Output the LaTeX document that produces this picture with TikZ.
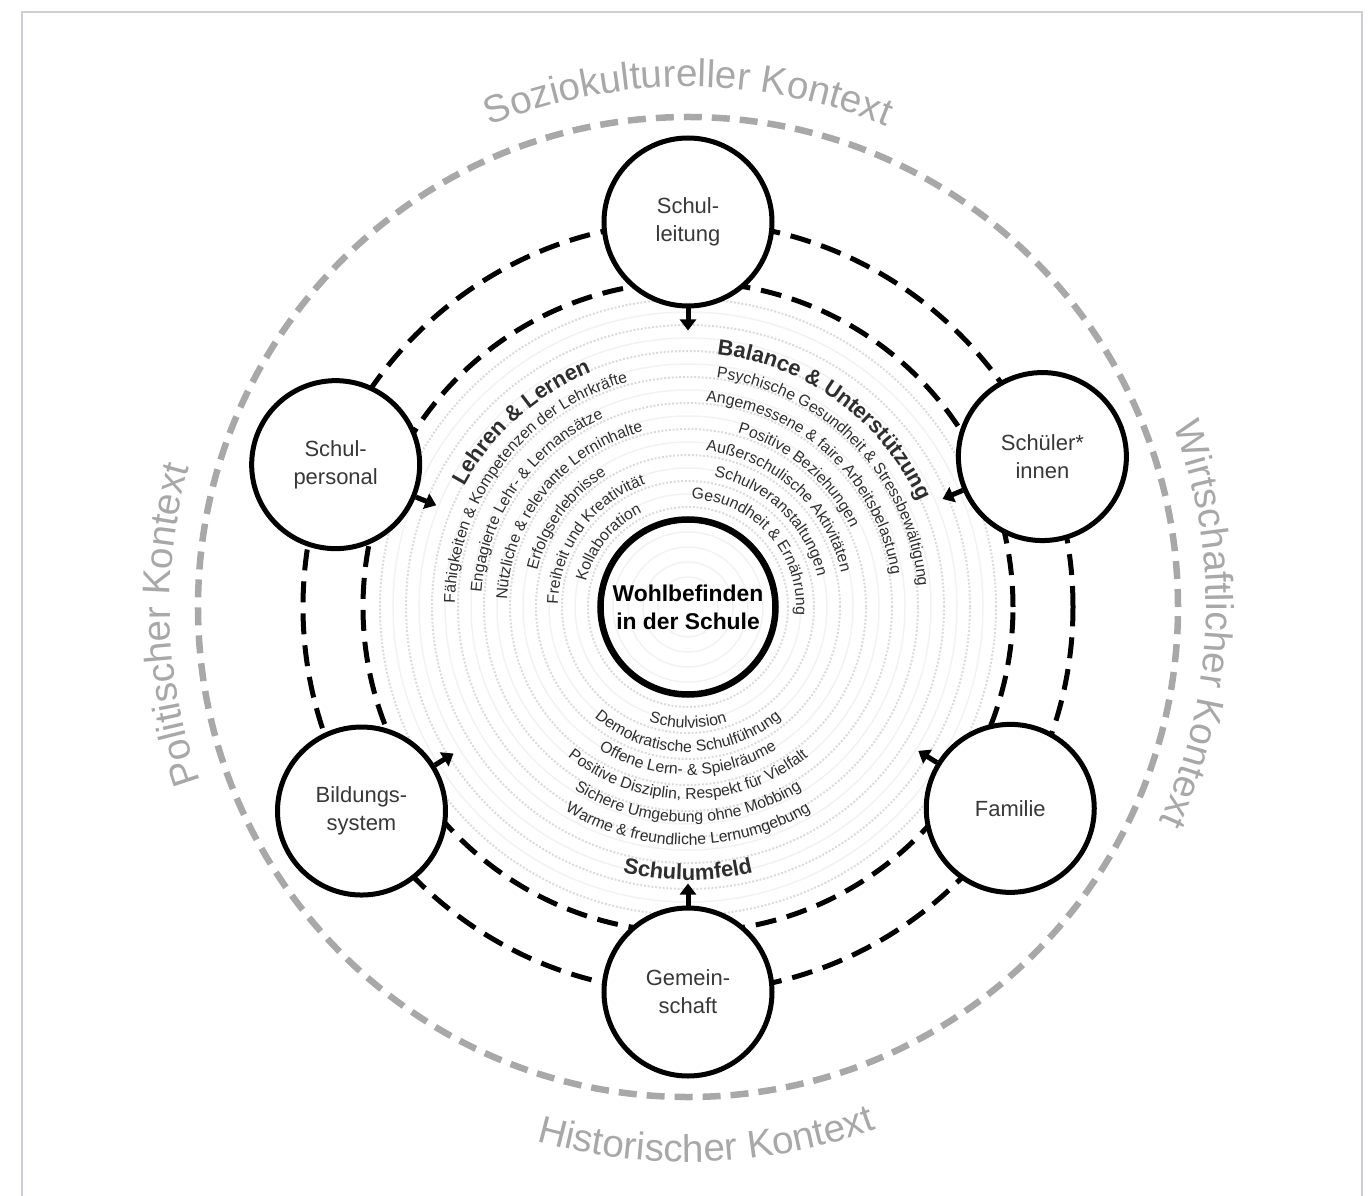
\documentclass[tikz,border=0pt]{standalone}
\usepackage{fontspec}
\setmainfont{Liberation Sans}
\usetikzlibrary{arrows.meta, calc, decorations.text}
\definecolor{framecol}{RGB}{204,206,224}
\definecolor{ctxgray}{RGB}{168,168,168}
\newcommand\arcfont{\fontsize{9}{11}\selectfont}
\newcommand\headfont{\bfseries\fontsize{12.5}{15}\selectfont}
\newcommand\ctxfont{\fontsize{22}{26}\selectfont}

\begin{document}
\begin{tikzpicture}[
  actor/.style={circle, draw, line width=0.1cm, fill=white, minimum size=3.36cm,
                inner sep=0pt, align=center, text=black!78,
                font=\fontsize{12.5}{16}\selectfont},
  hub/.style={circle, draw, line width=0.13cm, minimum size=3.5cm, inner sep=0pt,
              align=center, font=\bfseries\fontsize{13}{16}\selectfont},
  link/.style={line width=0.1cm, dash pattern=on 0.42cm off 0.22cm},
  ctxring/.style={ctxgray, line width=0.13cm, dash pattern=on 0.36cm off 0.2cm},
  ring/.style={gray!28, line width=0.04cm, densely dotted},
  faintring/.style={gray!10, line width=0.03cm},
  inarrow/.style={line width=0.1cm, -{Triangle[length=0.22cm, width=0.32cm]}},
  arctext/.style={decorate, decoration={text along path, text align=center,
                  text color=black!82}},
  ctxtext/.style={decorate, decoration={text along path, text align=center,
                  text color=ctxgray}}]

  \useasboundingbox (-13.76,-11.76) rectangle (13.64,12.14);
  \draw[framecol, line width=0.04cm] (-13.32,-12) |- (13.48,11.9) -- (13.48,-12);

  \coordinate (c) at (0,0);
  % background rings
  \foreach \r in {0.6,0.9,...,1.7} \draw[faintring] (c) circle[radius=\r];
  \foreach \r in {2.0,2.52,...,6.2} \draw[ring] (c) circle[radius=\r];
  \foreach \r in {2.26,2.78,...,6.0} \draw[faintring] (c) circle[radius=\r];

  % context ring and labels
  \draw[ctxring] (c) circle[radius=9.8];
  \path[ctxtext, decoration={text={|\ctxfont|Soziokultureller Kontext}}]
    (c) ++(170:10.4) arc[start angle=170, end angle=10, radius=10.4];
  \path[ctxtext, decoration={text={|\ctxfont|Politischer Kontext}}]
    (c) ++(262:10.36) arc[start angle=262, end angle=102, radius=10.36];
  \path[ctxtext, decoration={text={|\ctxfont|Wirtschaftlicher Kontext}}]
    (c) ++(78:10.36) arc[start angle=78, end angle=-82, radius=10.36];
  \path[ctxtext, decoration={text={|\ctxfont|Historischer Kontext}}]
    (c) ++(-168:11.1) arc[start angle=-168, end angle=-8, radius=11.1];

  % links between the actors
  \draw[link] (c) circle[radius=7.7];
  \draw[link] (c) circle[radius=6.5];

  \node[hub]   (wb) at (c)        {Wohlbefinden\\in der Schule};
  \node[actor] (sl) at (90:7.7)   {Schul-\\leitung};
  \node[actor] (si) at (23:7.7)   {Schüler*\\innen};
  \node[actor] (fa) at (-32:7.6)  {Familie};
  \node[actor] (gs) at (-90:7.7)  {Gemein-\\schaft};
  \node[actor] (bs) at (212:7.7)  {Bildungs-\\system};
  \node[actor] (sp) at (158:7.6)  {Schul-\\personal};

  \foreach \n/\a in {sl/-90, si/203, fa/148, gs/90, bs/32, sp/-22}
    \draw[inarrow] (\n.\a) -- ($(\n.\a)!0.44cm!(wb)$);

  % headings
  \path[arctext, decoration={text={|\headfont|Lehren {\&} Lernen}}]
    (wb.center) ++(212:5.08) arc[start angle=212, end angle=52, radius=5.08];
  \path[arctext, decoration={text={|\headfont|Balance {\&} Unterstützung}}]
    (wb.center) ++(134:5.08) arc[start angle=134, end angle=-26, radius=5.08];
  \path[arctext, decoration={text={|\headfont|Schulumfeld}}]
    (wb.center) ++(-170:5.46) arc[start angle=-170, end angle=-10, radius=5.46];

  % upper items, clockwise
  \foreach \rad/\ang/\txt in {
      4.66/142/{Fähigkeiten {\&} Kompetenzen der Lehrkräfte},
      4.14/145/{Engagierte Lehr- {\&} Lernansätze},
      3.62/141/{Nützliche {\&} relevante Lerninhalte},
      3.1/144/{Erfolgserlebnisse},
      2.6/144/{Freiheit und Kreativität},
      2.1/141/{Kollaboration},
      4.62/44/{Psychische Gesundheit {\&} Stressbewältigung},
      4.12/47/{Angemessene {\&} faire Arbeitsbelastung},
      3.62/50/{Positive Beziehungen},
      3.14/48/{Außerschulische Aktivitäten},
      2.66/46/{Schulveranstaltungen},
      2.16/42/{Gesundheit {\&} Ernährung}}
    \path[arctext, decoration={text/.expanded={|\noexpand\arcfont|\txt}}]
      (wb.center) ++(\ang+80:\rad) arc[start angle=\ang+80, end angle=\ang-80, radius=\rad];

  % lower items, counterclockwise
  \foreach \rad/\txt in {
      2.42/{Schulvision},
      2.9/{Demokratische Schulführung},
      3.36/{Offene Lern- {\&} Spielräume},
      3.84/{Positive Disziplin, Respekt für Vielfalt},
      4.3/{Sichere Umgebung ohne Mobbing},
      4.76/{Warme {\&} freundliche Lernumgebung}}
    \path[arctext, decoration={text/.expanded={|\noexpand\arcfont|\txt}}]
      (wb.center) ++(-170:\rad) arc[start angle=-170, end angle=-10, radius=\rad];
\end{tikzpicture}
\end{document}
